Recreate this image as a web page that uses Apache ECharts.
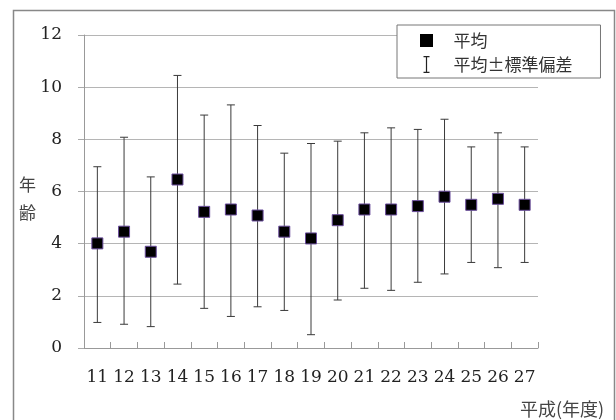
<!DOCTYPE html>
<html><head><meta charset="utf-8">
<script src="https://cdn.jsdelivr.net/npm/echarts@6/dist/echarts.min.js"></script>
<style>html,body{margin:0;padding:0;background:#fff}#c{width:616px;height:420px}</style>
</head><body><div id="c"></div>
<script>
const categories = ['11','12','13','14','15','16','17','18','19','20','21','22','23','24','25','26','27'];
const meanValues = [4.01,4.46,3.69,6.46,5.22,5.31,5.08,4.46,4.2,4.9,5.31,5.31,5.44,5.8,5.49,5.72,5.49];
const upperValues = [6.95,8.08,6.56,10.45,8.93,9.32,8.53,7.47,7.84,7.93,8.25,8.44,8.38,8.77,7.71,8.25,7.71];
const lowerValues = [0.98,0.91,0.82,2.45,1.52,1.21,1.58,1.44,0.51,1.84,2.29,2.21,2.52,2.84,3.28,3.08,3.28];
const yTicks = [0,2,4,6,8,10,12];
const meanName = '平均';
const sdName = '平均±標準偏差';
const yName = '年\n齢';
const xName = '平成(年度)';

const errData = categories.map((c,i)=>[i, lowerValues[i], upperValues[i]]);
const chart = echarts.init(document.getElementById('c'));
const numFont = '"DejaVu Serif", "Liberation Serif", serif';
const cjkFont = '"Noto Sans CJK JP", "Noto Sans", sans-serif';
chart.setOption({
  animation:false,
  backgroundColor:'#fff',
  grid:{left:84,right:78,top:35,bottom:72},
  legend:{
    orient:'vertical', left:397, top:25,
    padding:[7,28,5,21], itemGap:7, itemWidth:44, itemHeight:17,
    borderColor:'#777', borderWidth:1, backgroundColor:'#fff',
    textStyle:{fontFamily:cjkFont,fontSize:17,color:'#333'},
    data:[
      {name:meanName, icon:'path://M0,0M17,17M2,2h13v13h-13z', itemStyle:{color:'#000',borderWidth:0}},
      {name:sdName, icon:'path://M0,0h6v1.3h-6zM2.4,0h1.2v17h-1.2zM0,15.7h6v1.3h-6z', itemStyle:{color:'#222',borderWidth:0}}
    ]
  },
  xAxis:{
    type:'category', data:categories, boundaryGap:true,
    axisLine:{lineStyle:{color:'#999',width:1}},
    axisTick:{show:true,inside:true,length:6,alignWithLabel:false,lineStyle:{color:'#999'}},
    axisLabel:{interval:0,hideOverlap:false,margin:21,fontFamily:numFont,fontSize:17,color:'#222'},
    splitLine:{show:false}
  },
  yAxis:{
    type:'value', min:0, max:12, interval:2,
    axisLine:{show:true,lineStyle:{color:'#999'}},
    axisTick:{show:true,length:6,lineStyle:{color:'#aaa'}},
    axisLabel:{margin:22,fontFamily:numFont,fontSize:17,color:'#222',
      formatter:v=>yTicks.includes(v)?String(v):''},
    splitLine:{show:true,lineStyle:{color:'#b5b5b5',width:1}}
  },
  graphic:[
    {type:'rect',shape:{x:13.5,y:10.5,width:601,height:430},style:{fill:'none',stroke:'#888',lineWidth:1.5},silent:true,z:-1},
    {type:'text',left:19,top:171,style:{text:yName,font:'17px '+cjkFont,lineHeight:28,fill:'#444'}},
    {type:'text',left:520,top:400,style:{text:xName,font:'18px '+cjkFont,fill:'#444'}}
  ],
  series:[
    {
      name:sdName, type:'custom', data:errData, z:2,
      itemStyle:{color:'#222'},
      renderItem:(params,api)=>{
        const x = api.value(0);
        const lo = api.coord([x, api.value(1)]);
        const hi = api.coord([x, api.value(2)]);
        const hw = 4;
        const st = {stroke:'#3a3a3a',lineWidth:1};
        return {type:'group',children:[
          {type:'line',shape:{x1:lo[0],y1:lo[1],x2:hi[0],y2:hi[1]},style:st},
          {type:'line',shape:{x1:hi[0]-hw,y1:hi[1],x2:hi[0]+hw,y2:hi[1]},style:st},
          {type:'line',shape:{x1:lo[0]-hw,y1:lo[1],x2:lo[0]+hw,y2:lo[1]},style:st}
        ]};
      },
      encode:{x:0,y:[1,2]}
    },
    {
      name:meanName, type:'scatter', data:meanValues, symbol:'rect', symbolSize:11, z:5,
      itemStyle:{color:'#000',borderColor:'#6a4d9c',borderWidth:1,opacity:1}
    }
  ]
});
</script></body></html>
